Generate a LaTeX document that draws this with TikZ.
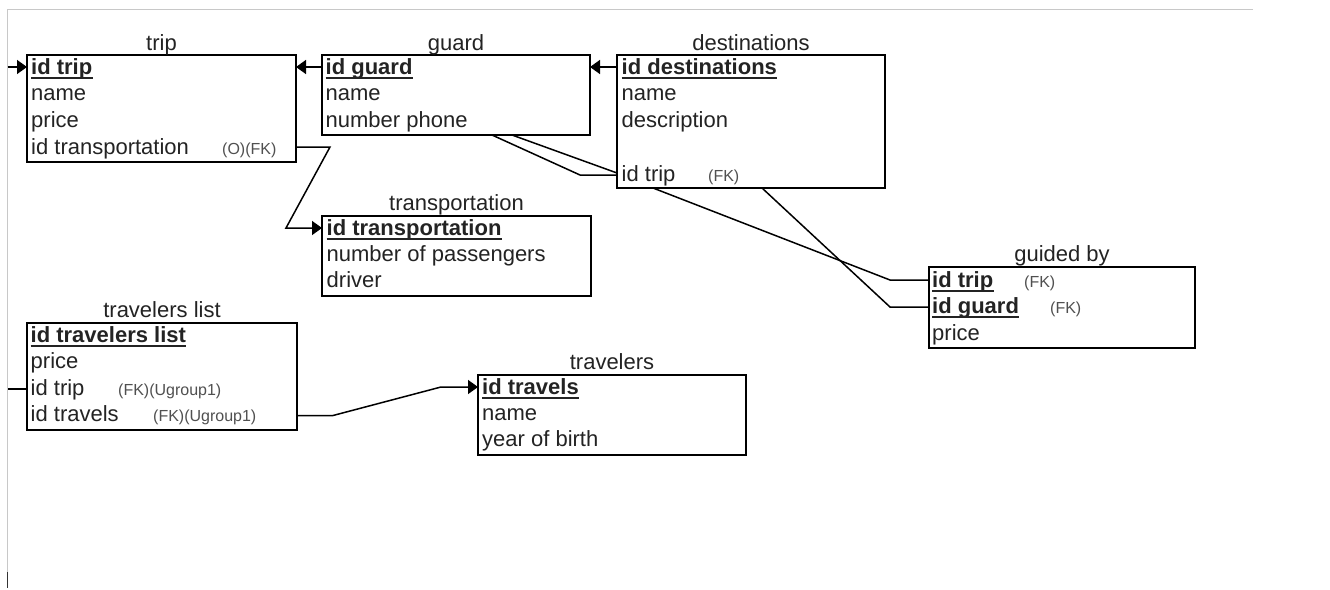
\documentclass[tikz,border=0pt]{standalone}
\usepackage{fontspec}
\setmainfont{Liberation Sans}
\usetikzlibrary{arrows.meta,calc}
\definecolor{txt}{RGB}{35,35,35}
\definecolor{notec}{RGB}{80,80,80}
\definecolor{framec}{RGB}{200,200,200}
\newcommand\mainsz{\fontsize{22}{24}\selectfont}
\newcommand\notesz{\fontsize{16}{18}\selectfont}
\newcommand\ulkey[1]{\draw[line width=1.8pt, draw=txt] ([yshift=-4pt]#1.base west) -- ([yshift=-4pt]#1.base east);}
\tikzset{
  tbl/.style={draw=black, line width=1.7pt, anchor=north west, inner sep=0pt, outer sep=0pt},
  ttl/.style={anchor=base, inner sep=0pt, font=\mainsz, text=txt},
  fld/.style={anchor=base west, inner sep=0pt, font=\mainsz, text=txt},
  keyfld/.style={fld, font=\mainsz\bfseries},
  note/.style={anchor=base west, inner sep=0pt, font=\notesz, text=notec},
  conn/.style={line width=1.5pt, draw=black},
  arr/.style={conn, -{Triangle[length=10pt,width=14pt]}},
}
\begin{document}
\begin{tikzpicture}[x=1pt,y=-1pt]
\useasboundingbox (0,0) rectangle (1330,589);
\fill[white] (0,0) rectangle (1330,589);
% frame of the canvas
\coordinate (fTL) at (7.5,9.5);
\coordinate (fTR) at (1253,9.5);
\coordinate (fBL) at (7.5,572);
\coordinate (fBE) at (7.5,588);
\draw[framec, line width=1pt] (fTR) -- (fTL) -- (fBL);
\draw[black!80, line width=1.2pt] (fBL) -- (fBE);

% tables
\node[tbl, minimum width=269pt, minimum height=107pt] (trip) at (27,55) {};
\node[tbl, minimum width=268pt, minimum height=80pt] (guard) at (322,55) {};
\node[tbl, minimum width=268pt, minimum height=133pt] (dest) at (617,55) {};
\node[tbl, minimum width=269pt, minimum height=80pt] (transp) at (322,216) {};
\node[tbl, minimum width=270pt, minimum height=107pt] (tlist) at (27,323) {};
\node[tbl, minimum width=268pt, minimum height=80pt] (trav) at (478,375) {};
\node[tbl, minimum width=266pt, minimum height=81pt] (guided) at (929,267) {};

% titles
\node[ttl] (tripT) at ([yshift=5pt]trip.north) {trip};
\node[ttl] (guardT) at ([yshift=5pt]guard.north) {guard};
\node[ttl] (destT) at ([yshift=5pt]dest.north) {destinations};
\node[ttl] (transpT) at ([yshift=6pt]transp.north) {transportation};
\node[ttl] (tlistT) at ([yshift=6pt]tlist.north) {travelers list};
\node[ttl] (travT) at ([yshift=6pt]trav.north) {travelers};
\node[ttl] (guidedT) at ([yshift=5.5pt]guided.north) {guided by};

% trip fields
\node[keyfld] (trip1) at (31,74) {id trip}; \ulkey{trip1}
\node[fld] (trip2) at (31,100.5) {name};
\node[fld] (trip3) at (31,127) {price};
\node[fld] (trip4) at (31,154) {id transportation};
\node[note] (trip4n) at (222,154) {(O)(FK)};

% guard fields
\node[keyfld] (guard1) at (325.5,74) {id guard}; \ulkey{guard1}
\node[fld] (guard2) at (325.5,100.5) {name};
\node[fld] (guard3) at (325.5,127) {number phone};

% destinations fields
\node[keyfld] (dest1) at (621.5,74) {id destinations}; \ulkey{dest1}
\node[fld] (dest2) at (621.5,100.5) {name};
\node[fld] (dest3) at (621.5,127) {description};
\node[fld] (dest5) at (621.5,181) {id trip};
\node[note] (dest5n) at (708,181) {(FK)};

% transportation fields
\node[keyfld] (transp1) at (326.5,235) {id transportation}; \ulkey{transp1}
\node[fld] (transp2) at (326.5,261) {number of passengers};
\node[fld] (transp3) at (326.5,287) {driver};

% travelers list fields
\node[keyfld] (tlist1) at (30.5,342) {id travelers list}; \ulkey{tlist1}
\node[fld] (tlist2) at (30.5,368.5) {price};
\node[fld] (tlist3) at (30.5,395) {id trip};
\node[note] (tlist3n) at (118,395) {(FK)(Ugroup1)};
\node[fld] (tlist4) at (30.5,421.5) {id travels};
\node[note] (tlist4n) at (153,421.5) {(FK)(Ugroup1)};

% travelers fields
\node[keyfld] (trav1) at (482,394) {id travels}; \ulkey{trav1}
\node[fld] (trav2) at (482,420) {name};
\node[fld] (trav3) at (482,446.5) {year of birth};

% guided by fields
\node[keyfld] (guided1) at (932,287) {id trip}; \ulkey{guided1}
\node[note] (guided1n) at (1024,287) {(FK)};
\node[keyfld] (guided2) at (932,313) {id guard}; \ulkey{guided2}
\node[note] (guided2n) at (1050,313) {(FK)};
\node[fld] (guided3) at (932,340) {price};

% connectors
\coordinate (lin1) at (7.5,67);
\coordinate (lin2) at (7.5,389);
\draw[arr] (lin1) -- ([yshift=-12pt]trip.north west);
\draw[conn] ([yshift=-66pt]tlist.north west) -- (lin2);
\draw[arr] ([yshift=-12pt]guard.north west) -- ([yshift=-12pt]trip.north east);
\draw[arr] ([yshift=-12pt]dest.north west) -- ([yshift=-12pt]guard.north east);
\draw[arr] ([yshift=-92pt]trip.north east) -- (330,147) -- (286,228) -- ([yshift=-12pt]transp.north west);
\draw[conn] ([xshift=170pt]guard.south west) -- (580,175) -- ([yshift=-120pt]dest.north west);
\draw[conn] ([xshift=190pt]guard.south west) -- ([yshift=-118pt]dest.north west);
\draw[conn] ([xshift=36pt]dest.south west) -- (890,280) -- ([yshift=-13pt]guided.north west);
\draw[conn] ([xshift=145pt]dest.south west) -- (890,307) -- ([yshift=-40pt]guided.north west);
\draw[arr] ([yshift=-92.5pt]tlist.north east) -- (333,415.5) -- (441,387) -- ([yshift=-12pt]trav.north west);
\end{tikzpicture}
\end{document}
